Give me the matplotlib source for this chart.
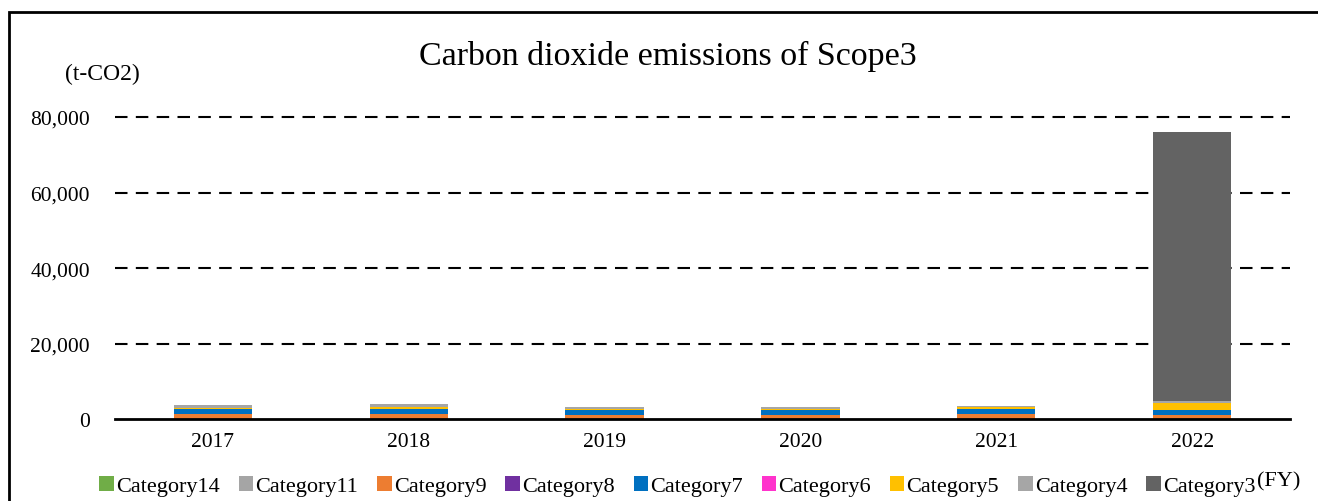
import matplotlib
matplotlib.use("Agg")
import matplotlib.pyplot as plt
from matplotlib.patches import Rectangle
from matplotlib.ticker import FuncFormatter
import numpy as np

plt.rcParams['font.family'] = ['Liberation Serif', 'DejaVu Serif']

years = ["2017", "2018", "2019", "2020", "2021", "2022"]
categories = ["Category14", "Category11", "Category9", "Category8", "Category7",
              "Category6", "Category5", "Category4", "Category3"]
colors = ["#70AD47", "#A5A5A5", "#ED7D31", "#7030A0", "#0070C0",
          "#FF33CC", "#FFC000", "#A6A6A6", "#636363"]

cat14 = [30, 30, 30, 30, 30, 30]
cat11 = [50, 50, 50, 50, 50, 50]
cat9 = [1400, 1400, 1150, 1050, 1400, 1060]
cat8 = [20, 20, 20, 20, 20, 20]
cat7 = [1240, 1240, 1150, 1230, 1320, 1240]
cat6 = [40, 40, 40, 40, 40, 40]
cat5 = [200, 600, 260, 260, 440, 1850]
cat4 = [780, 620, 600, 500, 260, 530]
cat3 = [0, 0, 0, 0, 0, 71200]
series = [cat14, cat11, cat9, cat8, cat7, cat6, cat5, cat4, cat3]

fig = plt.figure(figsize=(13.18, 5.02), dpi=100)
ax = fig.add_axes([0.0873, 0.1624, 0.8915, 0.6025])

x = np.arange(len(years))
bottom = np.zeros(len(years))
handles = []
for name, vals, col in zip(categories, series, colors):
    vals = np.array(vals, dtype=float)
    h = ax.bar(x, vals, 0.40, bottom=bottom, color=col, label=name, linewidth=0)
    handles.append(h)
    bottom += vals

ax.set_xlim(-0.5, len(years) - 0.5)
ax.set_ylim(0, 80000)
ax.set_yticks([0, 20000, 40000, 60000, 80000])
ax.yaxis.set_major_formatter(FuncFormatter(lambda v, p: f"{int(v):,}"))
ax.set_xticks(x)
ax.set_xticklabels(years)
ax.tick_params(axis='both', length=0, labelsize=15.5)
ax.tick_params(axis='y', pad=18)
ax.tick_params(axis='x', pad=9)

for y in [20000, 40000, 60000, 80000]:
    ax.axhline(y, color='black', linewidth=1.5, linestyle=(0, (6, 4)), zorder=0,
               clip_on=False)

for s in ['top', 'right', 'left']:
    ax.spines[s].set_visible(False)
ax.spines['bottom'].set_linewidth(2.0)
ax.spines['bottom'].set_color('black')

fig.text(0.507, 0.887, "Carbon dioxide emissions of Scope3", ha='center', va='center',
         fontsize=24.5)
fig.text(0.049, 0.852, "(t-CO2)", ha='left', va='center', fontsize=17)
fig.text(0.954, 0.04, "(FY)", ha='left', va='center', fontsize=16)

leg = fig.legend(handles=handles, labels=categories, loc='center',
                 bbox_to_anchor=(0.514, 0.03), ncol=9, frameon=False,
                 fontsize=16, handlelength=0.65, handleheight=0.65,
                 handletextpad=0.1, columnspacing=0.85)

frame = Rectangle((9 / 1318, -0.1), 1.2, 1 - 13 / 502 + 0.1, transform=fig.transFigure,
                  fill=False, edgecolor='black', linewidth=2.0)
fig.patches.append(frame)

fig.savefig("out.png", dpi=100)
